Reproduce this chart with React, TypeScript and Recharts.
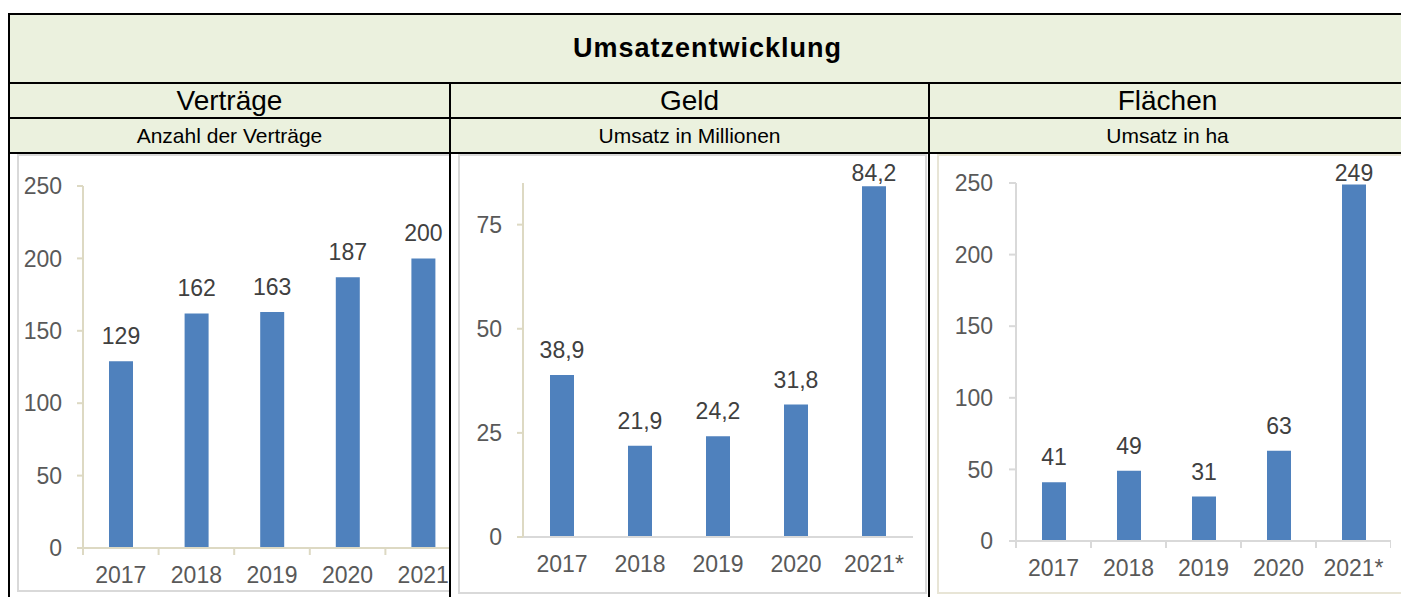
import React from 'react';
import { BarChart, Bar, XAxis, YAxis, LabelList } from 'recharts';

const years = ['2017', '2018', '2019', '2020', '2021'];
const yearsStar = ['2017', '2018', '2019', '2020', '2021*'];
const vertraege = [129, 162, 163, 187, 200];
const geld = [38.9, 21.9, 24.2, 31.8, 84.2];
const flaechen = [41, 49, 31, 63, 249];
const ticksVertraege = [0, 50, 100, 150, 200, 250];
const ticksGeld = [0, 25, 50, 75];
const ticksFlaechen = [0, 50, 100, 150, 200, 250];

const FONT = '"Liberation Sans", Arial, Helvetica, sans-serif';
const BLUE = '#4f81bd';
const TAN = '#ddd9c3';
const GRAY = '#d9d9d9';
const GREEN = '#ebf1de';

const toRows = (cats: string[], vals: number[]) => cats.map((c, i) => ({ year: c, value: vals[i] }));

const makeLabel = (fmt: (v: number) => string) => (p: any) => {
  const cx = Number(p.x) + Number(p.width) / 2;
  const by = Math.max(Number(p.y) - 17, 26);
  return (
    <text x={cx} y={by} textAnchor="middle" fill="#404040" fontSize={23}>
      {fmt(Number(p.value))}
    </text>
  );
};

interface PanelProps {
  rows: { year: string; value: number }[];
  ticks: number[];
  max: number;
  width: number;
  height: number;
  marginTop: number;
  marginLeft: number;
  yTickSize: number;
  yTickMargin: number;
  yColor: string;
  xColor: string;
  bounds: boolean;
  fmt: (v: number) => string;
}

const Panel: React.FC<PanelProps> = (p) => {
  const plotW = p.width - p.marginLeft - 60;
  const half = plotW / p.rows.length / 2;
  const gap = 19;
  const XTick = (t: any) => {
    const ay = t.y - gap;
    return (
      <g>
        {p.bounds && <line x1={t.x - half} x2={t.x - half} y1={ay} y2={ay + 7} stroke={p.xColor} strokeWidth={2} />}
        {p.bounds && t.index === p.rows.length - 1 && (
          <line x1={t.x + half} x2={t.x + half} y1={ay} y2={ay + 7} stroke={p.xColor} strokeWidth={2} />
        )}
        <text x={t.x} y={t.y} dy={16.3} textAnchor="middle" fill="#595959" fontSize={23}>
          {t.payload.value}
        </text>
      </g>
    );
  };
  return (
    <BarChart
      width={p.width}
      height={p.height}
      data={p.rows}
      margin={{ top: p.marginTop, right: 0, bottom: 0, left: p.marginLeft }}
    >
      <XAxis
        dataKey="year"
        height={40}
        tickLine={false}
        tickSize={6}
        tickMargin={13}
        axisLine={{ stroke: p.xColor, strokeWidth: 2 }}
        tick={XTick}
        interval={0}
      />
      <YAxis
        width={60}
        domain={[0, p.max]}
        ticks={p.ticks}
        tickSize={p.yTickSize}
        tickMargin={p.yTickMargin}
        axisLine={{ stroke: p.yColor, strokeWidth: 2 }}
        tickLine={{ stroke: p.yColor, strokeWidth: 2 }}
        tick={{ fill: '#595959', fontSize: 23 }}
        allowDataOverflow
      />
      <Bar dataKey="value" fill={BLUE} barSize={24} isAnimationActive={false}>
        <LabelList dataKey="value" content={makeLabel(p.fmt)} />
      </Bar>
    </BarChart>
  );
};

const Line: React.FC<{ l: number; t: number; w: number; h: number }> = ({ l, t, w, h }) => (
  <div style={{ position: 'absolute', left: l, top: t, width: w, height: h, background: '#000' }} />
);

const Header: React.FC<{ l: number; t: number; w: number; h: number; size: number; bold?: boolean; text: string; spacing?: number }> = (
  { l, t, w, h, size, bold, text, spacing }
) => (
  <div
    style={{
      position: 'absolute', left: l, top: t, width: w, height: h, background: GREEN,
      display: 'flex', alignItems: 'center', justifyContent: 'center',
      fontSize: size, fontWeight: bold ? 700 : 400, color: '#000', letterSpacing: spacing ?? 0,
      whiteSpace: 'nowrap',
    }}
  >
    {text}
  </div>
);

const intFmt = (v: number) => String(v);
const decFmt = (v: number) => v.toFixed(1).replace('.', ',');

export default function App() {
  return (
    <div
      style={{
        position: 'absolute', left: 0, top: 0, width: 1401, height: 597, overflow: 'hidden',
        background: '#fff', fontFamily: FONT,
      }}
    >
      <Header l={10} t={15} w={1395} h={67} size={27} bold spacing={1} text="Umsatzentwicklung" />
      <Header l={10} t={84} w={439} h={33} size={28} text="Verträge" />
      <Header l={451} t={84} w={477} h={33} size={28} text="Geld" />
      <Header l={930} t={84} w={475} h={33} size={28} text="Flächen" />
      <Header l={10} t={119} w={439} h={33} size={21} text="Anzahl der Verträge" />
      <Header l={451} t={119} w={477} h={33} size={21} text="Umsatz in Millionen" />
      <Header l={930} t={119} w={475} h={33} size={21} text="Umsatz in ha" />

      {/* Verträge */}
      <div style={{ position: 'absolute', left: 10, top: 154, width: 439, height: 443, overflow: 'hidden' }}>
        <div style={{ position: 'absolute', left: 7, top: 0, width: 460, height: 438, border: `2px solid ${GRAY}`, boxSizing: 'border-box' }} />
        <div style={{ position: 'absolute', left: 8, top: 1 }}>
          <Panel
            rows={toRows(years, vertraege)} ticks={ticksVertraege} max={250}
            width={443} height={433} marginTop={31} marginLeft={5}
            yTickSize={6} yTickMargin={15} yColor={TAN} xColor={TAN} bounds fmt={intFmt}
          />
        </div>
      </div>

      {/* Geld */}
      <div style={{ position: 'absolute', left: 451, top: 154, width: 477, height: 443, overflow: 'hidden' }}>
        <div style={{ position: 'absolute', left: 7, top: 0, width: 469, height: 440, border: `2px solid ${GRAY}`, boxSizing: 'border-box' }} />
        <div style={{ position: 'absolute', left: 7, top: 1 }}>
          <Panel
            rows={toRows(yearsStar, geld)} ticks={ticksGeld} max={85}
            width={455} height={422} marginTop={28} marginLeft={5}
            yTickSize={6} yTickMargin={15} yColor={TAN} xColor={GRAY} bounds={false} fmt={decFmt}
          />
        </div>
      </div>

      {/* Flächen */}
      <div style={{ position: 'absolute', left: 930, top: 154, width: 475, height: 443, overflow: 'hidden' }}>
        <div style={{ position: 'absolute', left: 7, top: 0, width: 480, height: 440, border: '2px solid #e8e5d6', boxSizing: 'border-box' }} />
        <div style={{ position: 'absolute', left: 7, top: 1 }}>
          <Panel
            rows={toRows(yearsStar, flaechen)} ticks={ticksFlaechen} max={250}
            width={454} height={426} marginTop={28} marginLeft={19}
            yTickSize={7} yTickMargin={16} yColor={GRAY} xColor={GRAY} bounds fmt={intFmt}
          />
        </div>
      </div>

      <Line l={8} t={13} w={1400} h={2} />
      <Line l={8} t={82} w={1400} h={2} />
      <Line l={8} t={117} w={1400} h={2} />
      <Line l={8} t={152} w={1400} h={2} />
      <Line l={8} t={13} w={2} h={590} />
      <Line l={449} t={82} w={2} h={520} />
      <Line l={928} t={82} w={2} h={520} />
    </div>
  );
}
